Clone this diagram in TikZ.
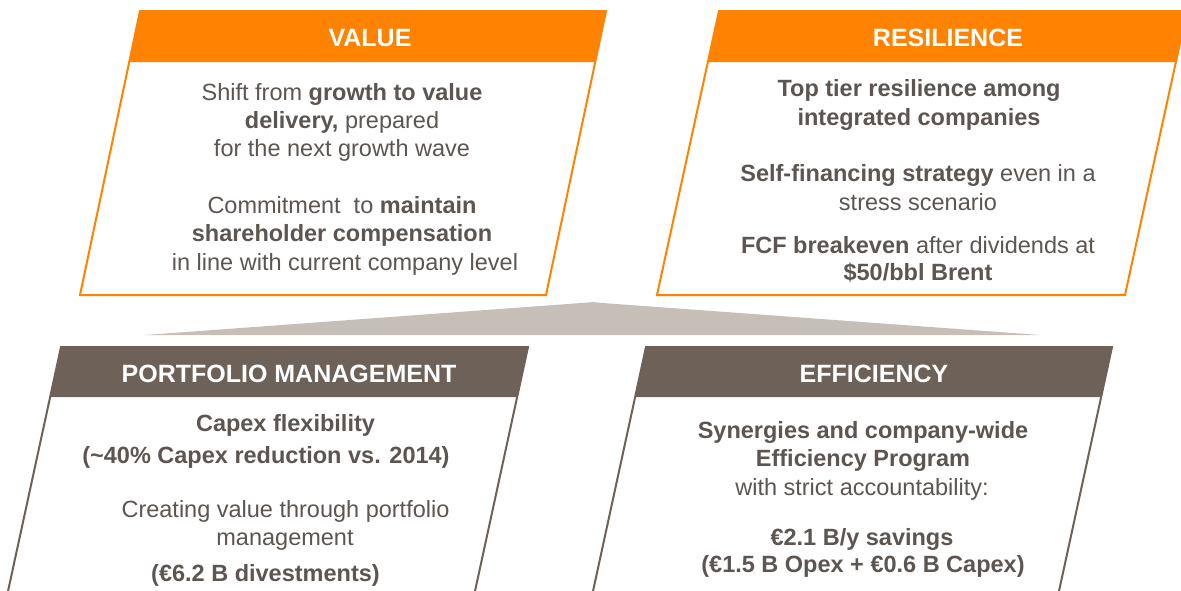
\documentclass[tikz,border=0pt]{standalone}
\usepackage{fontspec}
\setmainfont{Liberation Sans}
\definecolor{orng}{HTML}{FF8200}
\definecolor{brn}{HTML}{6D6158}
\definecolor{txtg}{HTML}{5C5551}
\definecolor{gshape}{HTML}{C5BFB7}
\begin{document}
\begin{tikzpicture}[x=1pt,y=-1pt,
  txt/.style={anchor=base,inner sep=0pt,text=txtg,font=\fontsize{23.5}{28}\selectfont},
  hdr/.style={anchor=base,inner sep=0pt,text=white,font=\bfseries\fontsize{25}{30}\selectfont},
  obox/.style={draw=orng,line width=2pt,fill=white,line join=miter},
  bbox/.style={draw=brn,line width=2pt,fill=white,line join=miter},
  ohead/.style={fill=orng},
  bhead/.style={fill=brn}]
\useasboundingbox (0,0) rectangle (1181,590);
\clip (0,0) rectangle (1181,590);
% gray connecting shape
\fill[gshape] (145,335) -- (588,302.5) .. controls (593,302) and (596,302) .. (600,302.8) -- (1040,335) -- cycle;
% VALUE box
\draw[obox] (140,11) -- (606,11) -- (546,295) -- (80,295) -- cycle;
\fill[ohead] (140,11) -- (606,11) -- (595.2,62) -- (129.2,62) -- cycle;
% RESILIENCE box
\draw[obox] (719,11) -- (1187,11) -- (1125,295) -- (657,295) -- cycle;
\fill[ohead] (719,11) -- (1187,11) -- (1176,62) -- (708,62) -- cycle;
% PORTFOLIO box
\draw[bbox] (5,605) -- (61,347) -- (528,347) -- (472,605);
\fill[bhead] (61,347) -- (528,347) -- (517,397) -- (50,397) -- cycle;
% EFFICIENCY box
\draw[bbox] (590,605) -- (646,347) -- (1112,347) -- (1056,605);
\fill[bhead] (646,347) -- (1112,347) -- (1101,397) -- (635,397) -- cycle;
% headers
\node[hdr] (hv) at (370,46) {VALUE};
\node[hdr] (hr) at (948,46) {RESILIENCE};
\node[hdr] (hp) at (289,382) {PORTFOLIO MANAGEMENT};
\node[hdr] (he) at (874,382) {EFFICIENCY};
% VALUE text
\node[txt] (v1) at (342,100) {Shift from \textbf{growth to value}};
\node[txt] (v2) at (342,128) {\textbf{delivery,} prepared};
\node[txt] (v3) at (342,156) {for the next growth wave};
\node[txt] (v4) at (342,213) {Commitment\ \ to \textbf{maintain}};
\node[txt] (v5) at (342,241) {\textbf{shareholder compensation}};
\node[txt] (v6) at (345,270) {in line with current company level};
% RESILIENCE text
\node[txt] (r1) at (919,96) {\textbf{Top tier resilience among}};
\node[txt] (r2) at (919,125) {\textbf{integrated companies}};
\node[txt] (r3) at (918,181) {\textbf{Self-financing strategy} even in a};
\node[txt] (r4) at (918,210) {stress scenario};
\node[txt] (r5) at (918,253) {\textbf{FCF breakeven} after dividends at};
\node[txt] (r6) at (918,280) {\textbf{\$50/bbl Brent}};
% PORTFOLIO text
\node[txt] (p1) at (285.5,431) {\textbf{Capex flexibility}};
\node[txt] (p2) at (266,463) {\textbf{(\textasciitilde40\% Capex reduction vs. 2014)}};
\node[txt] (p3) at (285.5,517) {Creating value through portfolio};
\node[txt] (p4) at (285,545) {management};
\node[txt] (p5) at (265.5,581) {\textbf{(€6.2 B divestments)}};
% EFFICIENCY text
\node[txt] (e1) at (863,438) {\textbf{Synergies and company-wide}};
\node[txt] (e2) at (863,466) {\textbf{Efficiency Program}};
\node[txt] (e3) at (862,495) {with strict accountability:};
\node[txt] (e4) at (862,545) {\textbf{€2.1 B/y savings}};
\node[txt] (e5) at (863,572) {\textbf{(€1.5 B Opex + €0.6 B Capex)}};
\end{tikzpicture}
\end{document}
